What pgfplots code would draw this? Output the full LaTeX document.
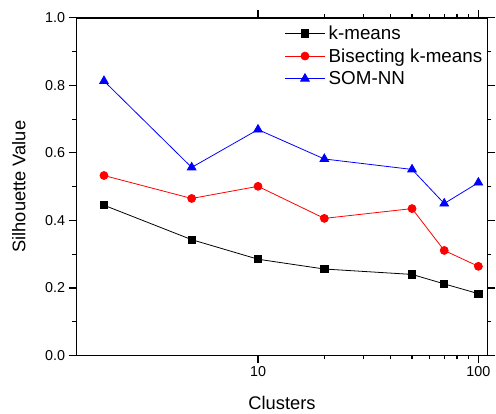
\documentclass[border=0pt]{standalone}
\usepackage{fontspec}
\setmainfont{Liberation Sans}
\usepackage{pgfplots}
\pgfplotsset{compat=1.18}
\newcommand{\lgfont}{\fontsize{19}{22}\selectfont}

\begin{document}
\begin{tikzpicture}
\begin{axis}[
  xmode=log,
  scale only axis,
  width=414bp, height=340bp,
  xmin=1.5, xmax=110,
  ymin=0, ymax=1.0,
  xtick={10,100},
  log ticks with fixed point,
  ytick={0,0.2,0.4,0.6,0.8,1.0},
  minor ytick={0.1,0.3,0.5,0.7,0.9},
  yticklabel style={/pgf/number format/.cd, fixed, fixed zerofill, precision=1},
  /pgf/number format/assume math mode=true,
  tick align=outside,
  tick pos=both,
  xticklabel pos=bottom, yticklabel pos=left,
  major tick length=8bp, minor tick length=4bp,
  axis line style={line width=1.5bp},
  every tick/.style={line width=1.2bp, black},
  ticklabel style={font=\fontsize{14.5}{17}\selectfont},
  label style={font=\fontsize{18.5}{22}\selectfont},
  xlabel={Clusters},
  ylabel={Silhouette Value},
  xlabel style={at={(axis description cs:0.5,-0.141)}, anchor=center},
  ylabel style={at={(axis description cs:-0.140,0.5)}, anchor=center},
  clip=false,
  legend cell align=left,
  legend style={at={(axis description cs:0.499,0.989)}, anchor=north west,
    draw=none, fill=none, row sep=3.3bp,
    /tikz/every odd column/.append style={column sep=1.5bp},
    /tikz/every even column/.append style={text height=14bp, text depth=4bp}},
  legend image code/.code={
    \draw[mark repeat=2, mark phase=2] plot coordinates {(0bp,0bp) (20bp,0bp) (40bp,0bp)};
  },
]

\addplot[black, line width=0.8bp, mark=square*, mark size=3.6bp, mark options={solid}]
  coordinates {(2,0.445) (5,0.343) (10,0.285) (20,0.256) (50,0.240) (70,0.212) (100,0.183)};
\addlegendentry{\lgfont k-means}

\addplot[red, line width=0.8bp, mark=*, mark size=4bp, mark options={solid}]
  coordinates {(2,0.533) (5,0.465) (10,0.501) (20,0.406) (50,0.435) (70,0.311) (100,0.264)};
\addlegendentry{\lgfont Bisecting k-means}

\addplot[blue, line width=0.8bp, mark=triangle*, mark size=5bp, mark options={solid}]
  coordinates {(2,0.813) (5,0.557) (10,0.669) (20,0.582) (50,0.551) (70,0.450) (100,0.512)};
\addlegendentry{\lgfont SOM-NN}

\coordinate (ll) at (rel axis cs:0,0);
\coordinate (ur) at (rel axis cs:1,1);
\end{axis}
\path ([shift={(-77bp,-57bp)}]ll) rectangle ([shift={(5bp,18bp)}]ur);
\end{tikzpicture}
\end{document}
